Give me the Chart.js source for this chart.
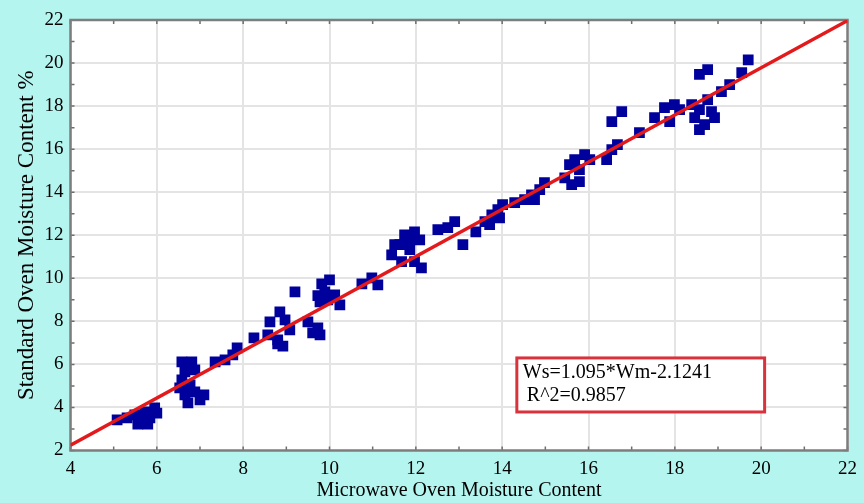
<!DOCTYPE html>
<html><head><meta charset="utf-8">
<script src="https://cdn.jsdelivr.net/npm/chart.js@4.4.0/dist/chart.umd.min.js"></script>
<style>html,body{margin:0;padding:0;background:#b4f5ef;overflow:hidden}#wrap{width:864px;height:503px}</style>
</head><body><div id="wrap"><canvas id="c" width="864" height="503"></canvas></div>
<script>
const microwave = [
5.08,5.31,5.49,5.61,5.72,5.84,5.95,5.79,5.56,6.00,
6.58,6.81,6.65,6.88,6.58,6.77,6.65,6.88,7.00,6.72,7.09,6.53,
7.35,7.58,7.76,7.86,8.25,
8.62,8.85,8.97,8.57,8.80,9.08,8.80,8.92,9.20,
9.50,9.73,9.61,9.78,
9.73,9.82,9.89,10.00,9.96,10.12,10.24,9.78,
10.75,10.98,11.12,
11.44,11.63,11.74,11.97,12.09,11.86,11.67,11.97,12.13,11.51,11.86,
12.51,12.74,12.90,13.09,13.39,
13.60,13.76,13.90,14.01,13.71,13.94,
14.29,14.52,14.68,14.87,14.98,14.75,
15.45,15.56,15.68,15.79,15.91,15.61,15.79,16.03,
16.42,16.54,16.67,16.54,16.77,17.18,
17.53,17.76,17.99,17.88,18.11,
18.39,18.57,18.76,18.85,18.46,18.69,18.92,18.57,18.57,18.76,19.08,19.27,19.55,19.70
];
const standard = [
3.42,3.51,3.65,3.42,3.79,3.51,3.98,3.23,3.23,3.74,
6.12,6.12,5.65,5.74,5.28,5.05,4.58,4.72,4.35,4.21,4.58,4.91,
6.12,6.21,6.44,6.77,7.23,
7.98,8.44,8.07,7.37,7.14,7.60,6.95,6.85,9.37,
7.98,7.70,7.47,7.37,
9.19,9.74,9.37,9.93,9.00,9.23,8.77,8.91,
9.74,10.02,9.70,
11.09,11.56,12.02,12.16,11.79,11.33,10.77,10.77,10.49,11.56,11.79,
12.26,12.35,12.63,11.56,12.16,
12.63,12.95,13.19,13.42,12.49,12.81,
13.51,13.65,13.88,14.12,14.44,13.65,
14.67,15.28,15.51,15.05,15.74,14.35,14.49,15.51,
15.51,15.98,16.21,17.28,17.74,16.77,
17.47,17.93,18.07,17.28,17.84,
18.07,17.84,18.30,17.74,17.47,17.14,17.47,16.91,19.47,19.70,18.67,19.00,19.55,20.15
];
const fitX = [4, 22];
const fitY = [2.25, 21.97];
const xTickLabels = [4,6,8,10,12,14,16,18,20,22];
const yTickLabels = [2,4,6,8,10,12,14,16,18,20,22];
const fitText = ['Ws=1.095*Wm-2.1241', 'R^2=0.9857'];
const xTitle = 'Microwave Oven Moisture Content';
const yTitle = 'Standard Oven Moisture Content %';

const serif = 'Liberation Serif';
const points = microwave.map((v, i) => ({x: v, y: standard[i]}));
const fitLine = fitX.map((v, i) => ({x: v, y: fitY[i]}));

const framePlugin = {
  id: 'frame',
  beforeDraw(chart) {
    const {ctx, chartArea: a} = chart;
    ctx.save();
    ctx.fillStyle = '#ffffff';
    ctx.fillRect(a.left, a.top, a.right - a.left, a.bottom - a.top);
    ctx.restore();
  },
  beforeDatasetsDraw(chart) {
    const {ctx, chartArea: a, scales: {x, y}} = chart;
    ctx.save();
    ctx.strokeStyle = '#6e6e6e';
    ctx.lineWidth = 1.5;
    x.ticks.forEach(t => {
      const px = x.getPixelForValue(t.value);
      ctx.beginPath();
      ctx.moveTo(px, a.bottom); ctx.lineTo(px, a.bottom - 4);
      ctx.moveTo(px, a.top); ctx.lineTo(px, a.top + 4);
      ctx.stroke();
    });
    y.ticks.forEach(t => {
      const py = y.getPixelForValue(t.value);
      ctx.beginPath();
      ctx.moveTo(a.left, py); ctx.lineTo(a.left + 4, py);
      ctx.moveTo(a.right, py); ctx.lineTo(a.right - 4, py);
      ctx.stroke();
    });
    ctx.strokeStyle = '#7d7d7d';
    ctx.lineWidth = 2.5;
    ctx.strokeRect(a.left, a.top, a.right - a.left, a.bottom - a.top);
    ctx.restore();
  },
  afterDraw(chart, args, opts) {
    const {ctx, scales: {x, y}} = chart;
    const l = x.getPixelForValue(opts.box[0]), r = x.getPixelForValue(opts.box[1]);
    const t = y.getPixelForValue(opts.box[2]), b = y.getPixelForValue(opts.box[3]);
    ctx.save();
    ctx.fillStyle = '#ffffff';
    ctx.fillRect(l, t, r - l, b - t);
    ctx.strokeStyle = '#d8323c';
    ctx.lineWidth = 3;
    ctx.strokeRect(l, t, r - l, b - t);
    ctx.fillStyle = '#000';
    ctx.font = '20px "' + serif + '"';
    ctx.textBaseline = 'middle';
    ctx.fillText(fitText[0], l + 6, t + 15);
    ctx.fillText(fitText[1], l + 10, t + 38);
    ctx.restore();
  }
};

new Chart(document.getElementById('c'), {
  type: 'scatter',
  data: {
    datasets: [
      {type: 'line', data: fitLine, borderColor: '#e3191c', borderWidth: 3.5, pointRadius: 0, fill: false},
      {data: points, pointStyle: 'rect', pointRadius: 7.6, pointHoverRadius: 7.6, backgroundColor: '#00009c', borderColor: '#00009c', borderWidth: 0}
    ]
  },
  options: {
    responsive: false,
    animation: false,
    devicePixelRatio: 1,
    layout: {padding: {left: 13, top: 20, right: 16, bottom: 0}},
    plugins: {legend: {display: false}, tooltip: {enabled: false}, frame: {box: [14.34, 20.08, 6.30, 3.79]}},
    scales: {
      x: {
        type: 'linear', min: 4, max: 22,
        afterFit(s) { s.height = 52.5; },
        ticks: {stepSize: 1, autoSkip: false, maxRotation: 0, padding: 7, color: '#000',
          font: {family: serif, size: 19},
          callback: v => xTickLabels.includes(v) ? String(v) : ''},
        grid: {drawTicks: false, lineWidth: 2, color: c => (c.tick && xTickLabels.includes(c.tick.value)) ? '#e4e4e4' : 'rgba(0,0,0,0)'},
        border: {display: false},
        title: {display: true, text: xTitle, color: '#000', font: {family: serif, size: 20}, padding: 0}
      },
      y: {
        type: 'linear', min: 2, max: 22,
        afterFit(s) { s.width = 57.5; },
        ticks: {stepSize: 1, autoSkip: false, padding: 7, color: '#000',
          font: {family: serif, size: 19},
          callback: v => yTickLabels.includes(v) ? String(v) : ''},
        grid: {drawTicks: false, lineWidth: 2, color: c => (c.tick && yTickLabels.includes(c.tick.value)) ? '#e4e4e4' : 'rgba(0,0,0,0)'},
        border: {display: false},
        title: {display: true, text: yTitle, color: '#000', font: {family: serif, size: 23}, padding: 0}
      }
    }
  },
  plugins: [framePlugin]
});
</script></body></html>
